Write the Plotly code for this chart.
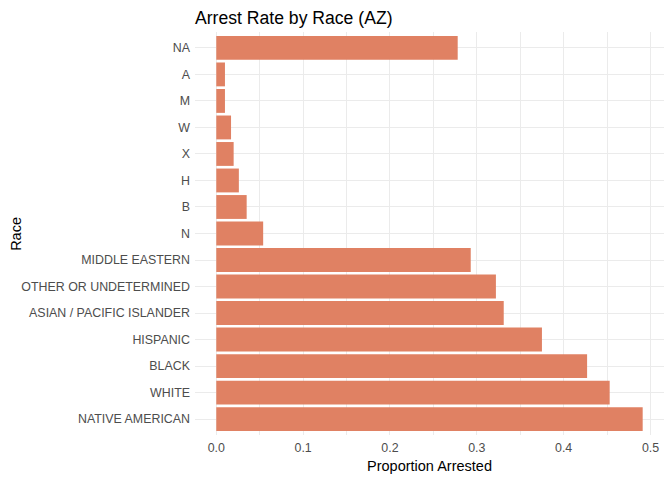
import plotly.graph_objects as go

# categories bottom -> top, as in the reference
races = ["NATIVE AMERICAN", "WHITE", "BLACK", "HISPANIC", "ASIAN / PACIFIC ISLANDER",
         "OTHER OR UNDETERMINED", "MIDDLE EASTERN", "N", "B", "H", "X", "W", "M", "A", "NA"]
arrest_rate = [0.491, 0.453, 0.427, 0.375, 0.331,
               0.322, 0.293, 0.054, 0.035, 0.026, 0.020, 0.017, 0.010, 0.010, 0.278]

x_ticks = [0.0, 0.1, 0.2, 0.3, 0.4, 0.5]
x_ticktext = ["0.0", "0.1", "0.2", "0.3", "0.4", "0.5"]

bar_color = "#E08163"
grid_color = "#EBEBEB"
text_grey = "#4D4D4D"

fig = go.Figure(go.Bar(
    x=arrest_rate,
    y=races,
    orientation="h",
    marker=dict(color=bar_color, line=dict(width=0)),
    hoverinfo="x+y",
))

xmax = max(arrest_rate)
fig.update_layout(
    width=672,
    height=480,
    margin=dict(l=195, r=8, t=32, b=45),
    paper_bgcolor="white",
    plot_bgcolor="white",
    bargap=0.1,
    showlegend=False,
    font=dict(family="Liberation Sans, Arial, sans-serif", color="black"),
    title=dict(
        text="Arrest Rate by Race (AZ)",
        x=0, xref="paper", xanchor="left",
        y=0.963, yref="container", yanchor="middle",
        font=dict(size=17.6, color="black"),
    ),
    xaxis=dict(
        range=[-0.0245, xmax * 1.05],
        tickvals=x_ticks,
        ticktext=x_ticktext,
        showgrid=True, gridcolor=grid_color, gridwidth=1,
        minor=dict(dtick=0.05, tick0=0, showgrid=True, gridcolor=grid_color, gridwidth=1),
        zeroline=False, showline=False,
        tickfont=dict(size=12.4, color=text_grey),
        title=dict(text="Proportion Arrested", font=dict(size=14.5, color="black"), standoff=6),
        ticks="", ticklabelstandoff=4,
        automargin=False,
    ),
    yaxis=dict(
        categoryorder="array",
        categoryarray=races,
        range=[-0.6, len(races) - 0.4],
        showgrid=True, gridcolor=grid_color, gridwidth=1,
        zeroline=False, showline=False,
        tickfont=dict(size=12.4, color=text_grey),
        ticks="", ticklabelstandoff=4,
        automargin=False,
    ),
)

# y axis title placed by hand so it sits where ggplot puts it
fig.add_annotation(
    text="Race", textangle=-90,
    x=-0.383, xref="paper", xanchor="center",
    y=0.5, yref="paper", yanchor="middle",
    showarrow=False,
    font=dict(size=14.5, color="black"),
)

# drop the browser's default body margin so the figure sits at (0, 0)
fig.write_html("out.html", config={"displayModeBar": False},
               post_script="document.body.style.margin='0px';")
